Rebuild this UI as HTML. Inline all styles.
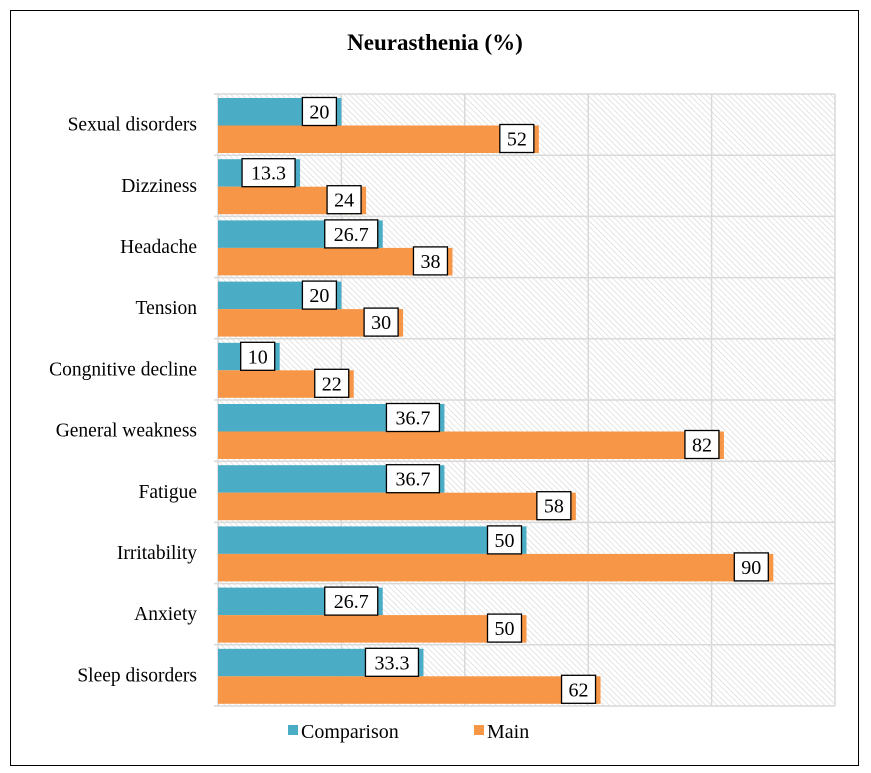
<!DOCTYPE html>
<html><head><meta charset="utf-8"><style>
body{margin:0;background:#fff;}
svg{display:block;font-family:"Liberation Serif",serif;}
</style></head><body>
<svg width="871" height="773">
<defs><pattern id="hatch" width="4" height="4" patternUnits="userSpaceOnUse" patternTransform="rotate(-45)"><rect width="4" height="4" fill="#fff"/><line x1="0" y1="0" x2="0" y2="4" stroke="#d4d4d4" stroke-width="1.2"/></pattern></defs>
<rect x="10.5" y="10.5" width="848" height="755" fill="#fff" stroke="#000"/>
<text x="435" y="50" text-anchor="middle" font-size="23" font-weight="bold">Neurasthenia (%)</text>
<rect x="218" y="94" width="617" height="612" fill="url(#hatch)"/>
<g id="grid"></g><g id="bars"></g><g id="labels"></g>
<g>
<rect x="288" y="725" width="10" height="10" fill="#4bacc6"/>
<text x="301" y="738" font-size="20">Comparison</text>
<rect x="474" y="725" width="10" height="10" fill="#f79646"/>
<text x="487" y="738" font-size="20">Main</text>
</g>
</svg>
<script>
const categories=["Sexual disorders","Dizziness","Headache","Tension","Congnitive decline","General weakness","Fatigue","Irritability","Anxiety","Sleep disorders"];
const comparison=[20,13.3,26.7,20,10,36.7,36.7,50,26.7,33.3];
const main=[52,24,38,30,22,82,58,90,50,62];
const ticks=[0,20,40,60,80,100];
const NS="http://www.w3.org/2000/svg";
const x0=218,x1=835,y0=94,y1=706,rh=(y1-y0)/categories.length;
const xs=v=>x0+v/100*(x1-x0);
function mk(t,a,p){const e=document.createElementNS(NS,t);for(const k in a)e.setAttribute(k,a[k]);p.appendChild(e);return e;}
const grid=document.getElementById('grid'),bars=document.getElementById('bars'),labels=document.getElementById('labels');
ticks.forEach(t=>{const l=mk('line',{x1:xs(t),x2:xs(t),y1:y0,y2:y1,stroke:'#d9d9d9','stroke-width':1.5},grid);

});
for(let i=0;i<=categories.length;i++){const l=mk('line',{x1:x0-4,x2:x1,y1:y0+i*rh,y2:y0+i*rh,stroke:'#d9d9d9','stroke-width':1.5},grid);

}
function label(v,yc){const txt=String(v);const w=txt.length*9.5+15;const xr=xs(v)-5;
const r=mk('rect',{x:xr-w,y:yc-14,width:w,height:28,fill:'#fff',stroke:'#000','stroke-width':1.3},labels);


const t=mk('text',{x:xr-w/2,y:yc+7,'text-anchor':'middle','font-size':20},labels);t.textContent=txt;

}
categories.forEach((c,i)=>{const top=y0+i*rh;
const t=mk('text',{x:197,y:top+rh/2+6,'text-anchor':'end','font-size':19.5},labels);t.textContent=c;


const b1=mk('rect',{x:x0,y:top+4,width:xs(comparison[i])-x0,height:27.5,fill:'#4bacc6'},bars);


const b2=mk('rect',{x:x0,y:top+31.5,width:xs(main[i])-x0,height:27.5,fill:'#f79646'},bars);


label(comparison[i],top+17.5);label(main[i],top+44.5);});
</script>
</body></html>
